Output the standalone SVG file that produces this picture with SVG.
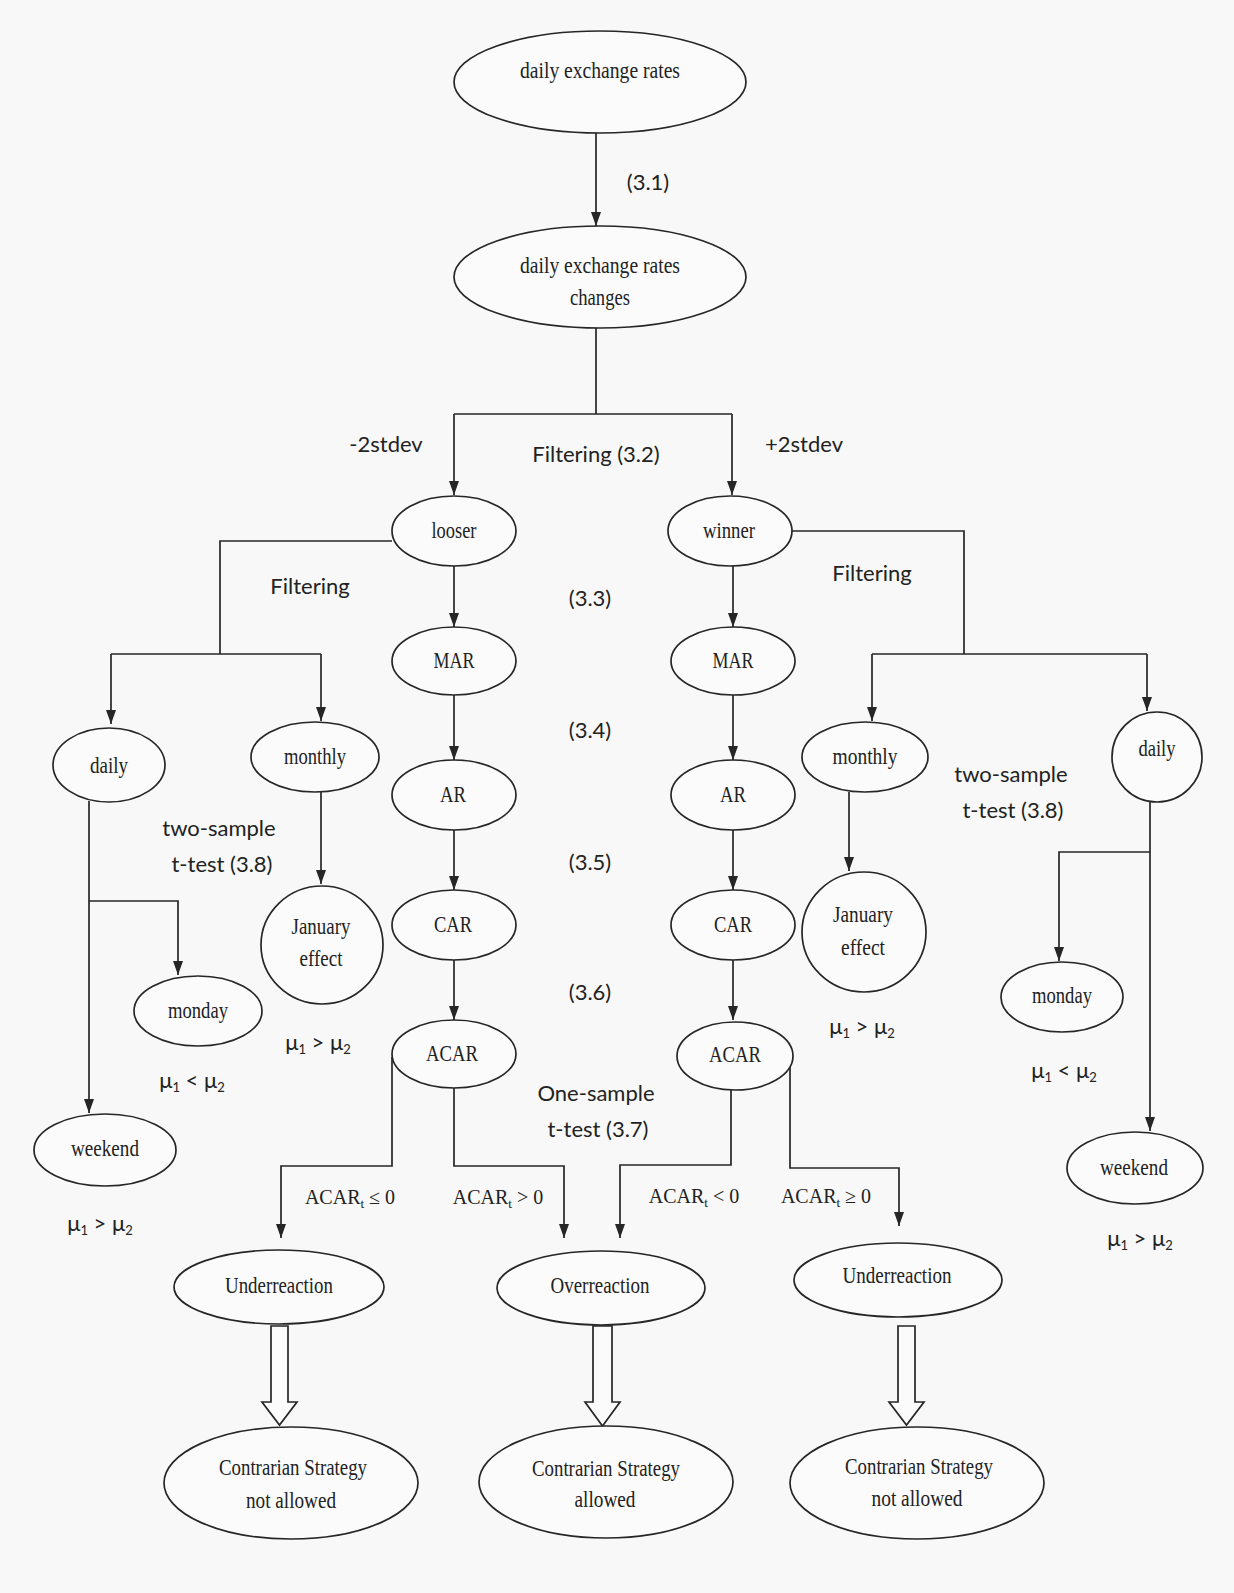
<svg xmlns="http://www.w3.org/2000/svg" width="1234" height="1593" viewBox="0 0 1234 1593">
<style>
.n ellipse{fill:#fbfbfb;stroke:#262626;stroke-width:1.7}
.t{font-family:"Liberation Serif","Times New Roman",serif;font-size:23px;fill:#222;text-anchor:middle}
.s{font-family:Lato,"Liberation Sans",sans-serif;font-size:22px;fill:#222;text-anchor:middle}
.sub{font-size:13px}
.c path{fill:none;stroke:#262626;stroke-width:1.7}
.c .h{marker-end:url(#ah)}
.b{fill:#fbfbfb;stroke:#262626;stroke-width:1.7}
</style>
<defs>
<marker id="ah" viewBox="0 0 14 10" refX="14" refY="5" markerWidth="14" markerHeight="10" orient="auto" markerUnits="userSpaceOnUse"><path d="M0,0 L14,5 L0,10 z" fill="#262626"/></marker>
</defs>
<rect width="1234" height="1593" fill="#f7f8f7"/>

<g class="c" id="connectors">
<path class="h" d="M596,133 V226"/>
<path d="M596,328 V414 M454,414 H732"/>
<path class="h" d="M454,414 V495"/>
<path class="h" d="M732,414 V495"/>
<path class="h" d="M454,566 V627"/>
<path class="h" d="M454,695 V760"/>
<path class="h" d="M454,830 V890"/>
<path class="h" d="M454,960 V1020"/>
<path class="h" d="M733,566 V627"/>
<path class="h" d="M733,695 V760"/>
<path class="h" d="M733,830 V890"/>
<path class="h" d="M733,960 V1020"/>
<path d="M392,541 H220 V654 M111,654 H321"/>
<path class="h" d="M111,654 V724"/>
<path class="h" d="M321,654 V721"/>
<path class="h" d="M321,792 V884"/>
<path class="h" d="M89,801 V1113"/>
<path class="h" d="M89,901 H178 V975"/>
<path d="M791,531 H964 V654 M872,654 H1147"/>
<path class="h" d="M872,654 V721"/>
<path class="h" d="M1147,654 V711"/>
<path class="h" d="M849,792 V871"/>
<path class="h" d="M1150,801 V1131"/>
<path class="h" d="M1150,852 H1059 V961"/>
<path class="h" d="M392,1057 V1166 H281 V1238"/>
<path class="h" d="M454,1088 V1166 H564 V1238"/>
<path class="h" d="M731,1089 V1165 H620 V1238"/>
<path class="h" d="M790,1062 V1168 H899 V1226"/>
<polygon class="b" points="271,1326 288,1326 288,1402 297,1402 279.5,1425 262,1402 271,1402"/>
<polygon class="b" points="593,1326 612,1326 612,1402 620,1402 602.5,1426 585,1402 593,1402"/>
<polygon class="b" points="898,1326 915,1326 915,1402 924,1402 906.5,1425 889,1402 898,1402"/>
</g>

<g class="n" id="rates"><ellipse cx="600" cy="82" rx="146" ry="51"/><text class="t" x="600" y="78" textLength="160" lengthAdjust="spacingAndGlyphs">daily exchange  rates</text></g>
<g class="n" id="changes"><ellipse cx="600" cy="277" rx="146" ry="51"/><text class="t" x="600" y="273" textLength="160" lengthAdjust="spacingAndGlyphs">daily exchange  rates</text><text class="t" x="600" y="305" textLength="60" lengthAdjust="spacingAndGlyphs">changes</text></g>

<g class="n" id="looser"><ellipse cx="454" cy="531" rx="62" ry="35"/><text class="t" x="454" y="538" textLength="45" lengthAdjust="spacingAndGlyphs">looser</text></g>
<g class="n" id="winner"><ellipse cx="730" cy="531" rx="62" ry="35"/><text class="t" x="729" y="538" textLength="52" lengthAdjust="spacingAndGlyphs">winner</text></g>

<g class="n" id="mar-l"><ellipse cx="454" cy="661" rx="62" ry="34"/><text class="t" x="454" y="668" textLength="41" lengthAdjust="spacingAndGlyphs">MAR</text></g>
<g class="n" id="ar-l"><ellipse cx="454" cy="795" rx="62" ry="35"/><text class="t" x="453" y="802" textLength="26" lengthAdjust="spacingAndGlyphs">AR</text></g>
<g class="n" id="car-l"><ellipse cx="454" cy="925" rx="62" ry="35"/><text class="t" x="453" y="932" textLength="38" lengthAdjust="spacingAndGlyphs">CAR</text></g>
<g class="n" id="acar-l"><ellipse cx="454" cy="1054" rx="62" ry="34"/><text class="t" x="452" y="1061" textLength="52" lengthAdjust="spacingAndGlyphs">ACAR</text></g>

<g class="n" id="mar-r"><ellipse cx="733" cy="661" rx="62" ry="34"/><text class="t" x="733" y="668" textLength="41" lengthAdjust="spacingAndGlyphs">MAR</text></g>
<g class="n" id="ar-r"><ellipse cx="733" cy="795" rx="62" ry="35"/><text class="t" x="733" y="802" textLength="26" lengthAdjust="spacingAndGlyphs">AR</text></g>
<g class="n" id="car-r"><ellipse cx="733" cy="925" rx="62" ry="35"/><text class="t" x="733" y="932" textLength="38" lengthAdjust="spacingAndGlyphs">CAR</text></g>
<g class="n" id="acar-r"><ellipse cx="735" cy="1056" rx="58" ry="34"/><text class="t" x="735" y="1062" textLength="52" lengthAdjust="spacingAndGlyphs">ACAR</text></g>

<g class="n" id="daily-l"><ellipse cx="109" cy="765" rx="56" ry="37"/><text class="t" x="109" y="773" textLength="38" lengthAdjust="spacingAndGlyphs">daily</text></g>
<g class="n" id="monthly-l"><ellipse cx="315" cy="757" rx="64" ry="35"/><text class="t" x="315" y="764" textLength="62" lengthAdjust="spacingAndGlyphs">monthly</text></g>
<g class="n" id="january-l"><ellipse cx="322" cy="945" rx="61" ry="59"/><text class="t" x="321" y="934" textLength="59" lengthAdjust="spacingAndGlyphs">January</text><text class="t" x="321" y="966" textLength="43" lengthAdjust="spacingAndGlyphs">effect</text></g>
<g class="n" id="monday-l"><ellipse cx="198" cy="1011" rx="64" ry="35"/><text class="t" x="198" y="1018" textLength="60" lengthAdjust="spacingAndGlyphs">monday</text></g>
<g class="n" id="weekend-l"><ellipse cx="105" cy="1150" rx="71" ry="36"/><text class="t" x="105" y="1156" textLength="68" lengthAdjust="spacingAndGlyphs">weekend</text></g>

<g class="n" id="monthly-r"><ellipse cx="865" cy="757" rx="63" ry="35"/><text class="t" x="865" y="764" textLength="65" lengthAdjust="spacingAndGlyphs">monthly</text></g>
<g class="n" id="january-r"><ellipse cx="864" cy="932" rx="62" ry="60"/><text class="t" x="863" y="922" textLength="60" lengthAdjust="spacingAndGlyphs">January</text><text class="t" x="863" y="955" textLength="44" lengthAdjust="spacingAndGlyphs">effect</text></g>
<g class="n" id="daily-r"><ellipse cx="1157" cy="757" rx="45" ry="45"/><text class="t" x="1157" y="756" textLength="37" lengthAdjust="spacingAndGlyphs">daily</text></g>
<g class="n" id="monday-r"><ellipse cx="1062" cy="997" rx="61" ry="35"/><text class="t" x="1062" y="1003" textLength="60" lengthAdjust="spacingAndGlyphs">monday</text></g>
<g class="n" id="weekend-r"><ellipse cx="1135" cy="1168" rx="68" ry="36"/><text class="t" x="1134" y="1175" textLength="68" lengthAdjust="spacingAndGlyphs">weekend</text></g>

<g class="n" id="under-l"><ellipse cx="279" cy="1287" rx="105" ry="37"/><text class="t" x="279" y="1293" textLength="108" lengthAdjust="spacingAndGlyphs">Underreaction</text></g>
<g class="n" id="over"><ellipse cx="601" cy="1288" rx="104" ry="37"/><text class="t" x="600" y="1293" textLength="99" lengthAdjust="spacingAndGlyphs">Overreaction</text></g>
<g class="n" id="under-r"><ellipse cx="898" cy="1280" rx="104" ry="37"/><text class="t" x="897" y="1283" textLength="109" lengthAdjust="spacingAndGlyphs">Underreaction</text></g>

<g class="n" id="contr-l"><ellipse cx="291" cy="1483" rx="127" ry="56"/><text class="t" x="293" y="1475" textLength="148" lengthAdjust="spacingAndGlyphs">Contrarian Strategy</text><text class="t" x="291" y="1508" textLength="90" lengthAdjust="spacingAndGlyphs">not allowed</text></g>
<g class="n" id="contr-m"><ellipse cx="606" cy="1482" rx="127" ry="56"/><text class="t" x="606" y="1476" textLength="148" lengthAdjust="spacingAndGlyphs">Contrarian Strategy</text><text class="t" x="605" y="1507" textLength="61" lengthAdjust="spacingAndGlyphs">allowed</text></g>
<g class="n" id="contr-r"><ellipse cx="917" cy="1483" rx="127" ry="56"/><text class="t" x="919" y="1474" textLength="148" lengthAdjust="spacingAndGlyphs">Contrarian Strategy</text><text class="t" x="917" y="1506" textLength="91" lengthAdjust="spacingAndGlyphs">not allowed</text></g>

<g id="labels">
<text class="s" x="648" y="190">(3.1)</text>
<text class="s" x="386" y="452">-2stdev</text>
<text class="s" x="596" y="462">Filtering (3.2)</text>
<text class="s" x="804" y="452">+2stdev</text>
<text class="s" x="310" y="594">Filtering</text>
<text class="s" x="872" y="581">Filtering</text>
<text class="s" x="590" y="606">(3.3)</text>
<text class="s" x="590" y="738">(3.4)</text>
<text class="s" x="590" y="870">(3.5)</text>
<text class="s" x="590" y="1000">(3.6)</text>
<text class="s" x="219" y="836">two-sample</text>
<text class="s" x="222" y="872">t-test (3.8)</text>
<text class="s" x="1011" y="782">two-sample</text>
<text class="s" x="1013" y="818">t-test (3.8)</text>
<text class="s" x="596" y="1101">One-sample</text>
<text class="s" x="598" y="1137">t-test (3.7)</text>
<text class="s" x="318" y="1050">μ<tspan class="sub" dy="4">1</tspan><tspan dy="-4"> &gt; μ</tspan><tspan class="sub" dy="4">2</tspan></text>
<text class="s" x="192" y="1088">μ<tspan class="sub" dy="4">1</tspan><tspan dy="-4"> &lt; μ</tspan><tspan class="sub" dy="4">2</tspan></text>
<text class="s" x="100" y="1231">μ<tspan class="sub" dy="4">1</tspan><tspan dy="-4"> &gt; μ</tspan><tspan class="sub" dy="4">2</tspan></text>
<text class="s" x="862" y="1034">μ<tspan class="sub" dy="4">1</tspan><tspan dy="-4"> &gt; μ</tspan><tspan class="sub" dy="4">2</tspan></text>
<text class="s" x="1064" y="1078">μ<tspan class="sub" dy="4">1</tspan><tspan dy="-4"> &lt; μ</tspan><tspan class="sub" dy="4">2</tspan></text>
<text class="s" x="1140" y="1246">μ<tspan class="sub" dy="4">1</tspan><tspan dy="-4"> &gt; μ</tspan><tspan class="sub" dy="4">2</tspan></text>
<text class="t" x="350" y="1204" style="font-size:20px">ACAR<tspan class="sub" dy="4">t</tspan><tspan dy="-4"> ≤ 0</tspan></text>
<text class="t" x="498" y="1204" style="font-size:20px">ACAR<tspan class="sub" dy="4">t</tspan><tspan dy="-4"> &gt; 0</tspan></text>
<text class="t" x="694" y="1203" style="font-size:20px">ACAR<tspan class="sub" dy="4">t</tspan><tspan dy="-4"> &lt; 0</tspan></text>
<text class="t" x="826" y="1203" style="font-size:20px">ACAR<tspan class="sub" dy="4">t</tspan><tspan dy="-4"> ≥ 0</tspan></text>
</g>
</svg>
